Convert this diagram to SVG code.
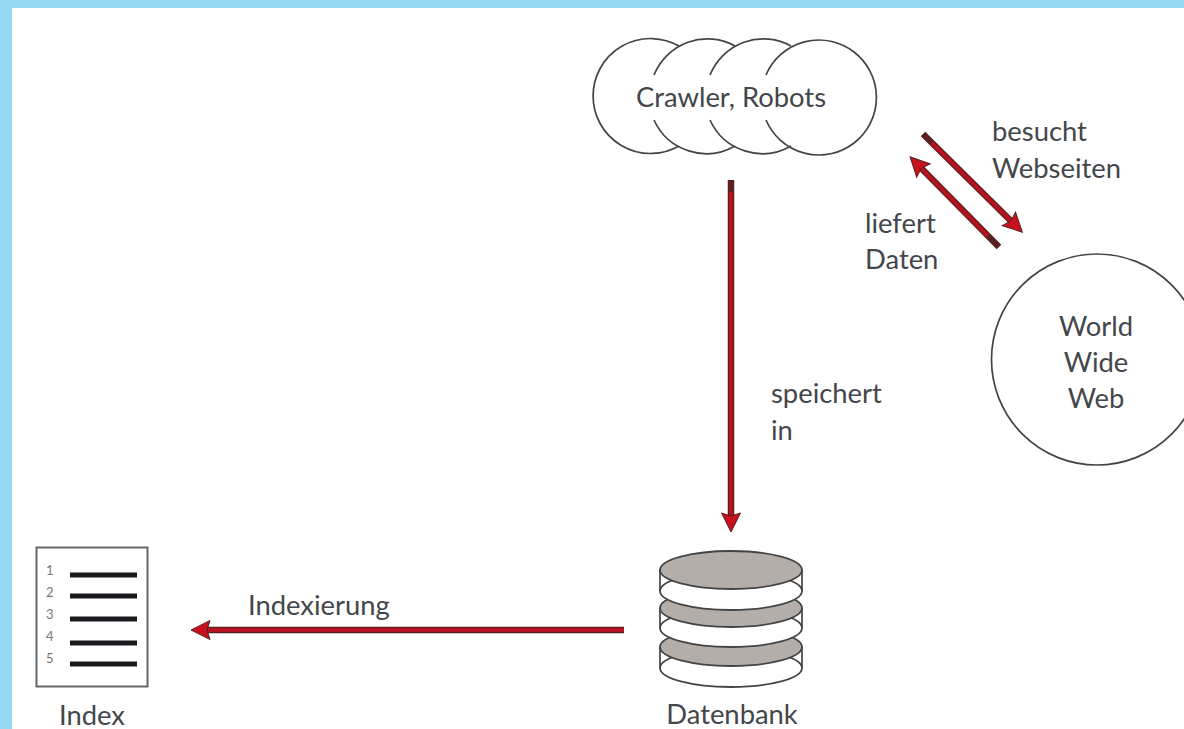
<svg xmlns="http://www.w3.org/2000/svg" width="1184" height="729" viewBox="0 0 1184 729">
<style>
.t{font-family:"Lato","Open Sans","Liberation Sans",sans-serif;font-size:27.400px;fill:#43464a}
.c{text-anchor:middle}
.o{fill:none;stroke:#444;stroke-width:1.700}
.out{stroke:#5a2020;stroke-width:6.500;fill:none}
.in{stroke:#b5121f;stroke-width:4;fill:none}
.d{fill:#fff;stroke:#444;stroke-width:1.800}
.g{fill:#b4aeaa;stroke:#444;stroke-width:1.800}
.n{font-family:"Lato","Liberation Sans",sans-serif;font-size:13px;fill:#777}
.b{stroke:#1a1a1e;stroke-width:5;fill:none}
</style>
<defs>
<marker id="h" markerUnits="userSpaceOnUse" markerWidth="24" markerHeight="24" refX="3" refY="12" orient="auto" viewBox="0 0 24 24" overflow="visible">
<path d="M0 2.500 L19 12 L0 21.500 L3 12 Z" fill="#c8101e" stroke="#5a2020" stroke-width="1"/>
</marker>
</defs>
<rect width="1184" height="729" fill="#fff"/>
<path d="M0 0H1184V8H12V729H0Z" fill="#97d8f5"/>
<g id="connectors">
<line class="out" x1="731" y1="180" x2="731" y2="516"/><line class="in" x1="731" y1="192" x2="731" y2="516" marker-end="url(#h)"/>
<line class="out" x1="624" y1="630" x2="207" y2="630"/><line class="in" x1="624" y1="630" x2="207" y2="630" marker-end="url(#h)"/>
<line class="out" x1="923" y1="134" x2="1011" y2="221"/><line class="in" x1="932" y1="143" x2="1011" y2="221" marker-end="url(#h)"/>
<line class="out" x1="999" y1="247" x2="921.300" y2="168.300"/><line class="in" x1="988" y1="236" x2="921.300" y2="168.300" marker-end="url(#h)"/>
</g>
<g id="crawler">
<path class="o" d="M679 46A57.500 57.500 0 1 0 679 146"/>
<path class="o" d="M654 75A57.500 57.500 0 0 1 735 46M654 120A57.500 57.500 0 0 0 735 146"/>
<path class="o" d="M710 75A57.500 57.500 0 0 1 791 46M710 120A57.500 57.500 0 0 0 791 146"/>
<path class="o" d="M766 75A57.500 57.500 0 1 1 766 120"/>
<text class="t c" x="731" y="107">Crawler, Robots</text>
</g>
<g id="www">
<circle class="o" cx="1097" cy="359.500" r="105.500"/>
<text class="t c" x="1096" y="336">World</text>
<text class="t c" x="1096" y="372">Wide</text>
<text class="t c" x="1096" y="408">Web</text>
</g>
<g id="datenbank">
<ellipse class="d" cx="731" cy="668" rx="71" ry="19"/>
<path class="o" d="M660 647V668M802 647V668"/>
<ellipse class="g" cx="731" cy="647" rx="71" ry="19"/>
<ellipse class="d" cx="731" cy="628" rx="71" ry="19"/>
<path class="o" d="M660 608V628M802 608V628"/>
<ellipse class="g" cx="731" cy="608" rx="71" ry="19"/>
<ellipse class="d" cx="731" cy="591" rx="71" ry="19"/>
<path class="o" d="M660 570V591M802 570V591"/>
<ellipse class="g" cx="731" cy="570" rx="71" ry="19"/>
<text class="t c" x="732" y="724">Datenbank</text>
</g>
<g id="index">
<rect x="36.500" y="547.500" width="111" height="139" fill="#fff" stroke="#666" stroke-width="2"/>
<path class="b" d="M70 575H137M70 596H137M70 619H137M70 643H137M70 664H137"/>
<text class="n" x="46" y="575">1</text>
<text class="n" x="46" y="597">2</text>
<text class="n" x="46" y="619">3</text>
<text class="n" x="46" y="641">4</text>
<text class="n" x="46" y="663">5</text>
<text class="t c" x="92" y="725">Index</text>
</g>
<g id="labels">
<text class="t" x="992" y="141">besucht</text>
<text class="t" x="992" y="178">Webseiten</text>
<text class="t" x="865" y="233">liefert</text>
<text class="t" x="865" y="269">Daten</text>
<text class="t" x="771" y="403">speichert</text>
<text class="t" x="771" y="440">in</text>
<text class="t" x="248" y="615">Indexierung</text>
</g>
</svg>
